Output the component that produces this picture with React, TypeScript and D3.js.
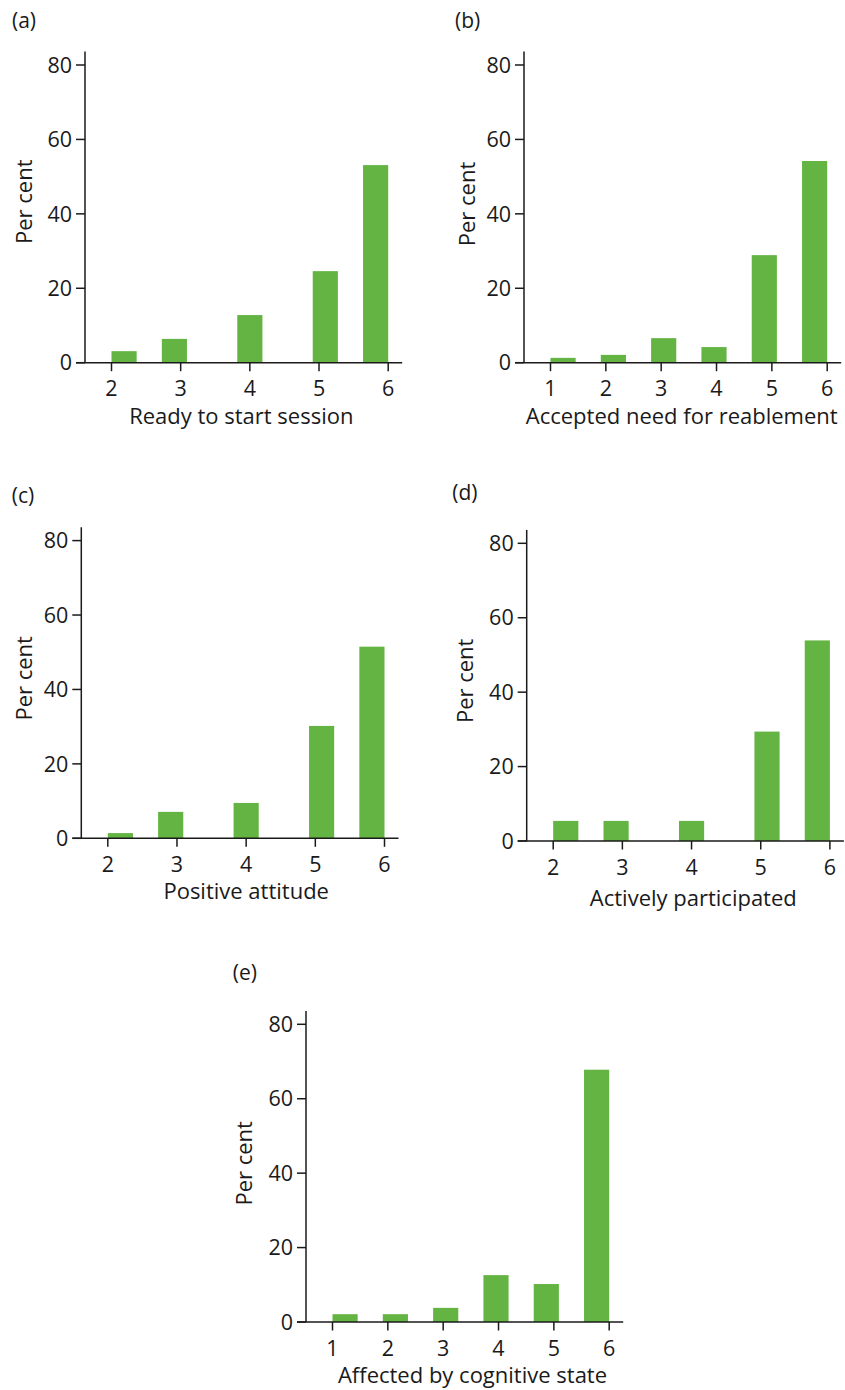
import React from "react";
import * as d3 from "d3";

// ---- Data (per cent of sessions at each rating) ----
const scoresA = [2, 3, 4, 5, 6];
const valuesA = [3.1, 6.4, 12.8, 24.6, 53.1];

const scoresB = [1, 2, 3, 4, 5, 6];
const valuesB = [1.3, 2.1, 6.6, 4.2, 28.9, 54.2];

const scoresC = [2, 3, 4, 5, 6];
const valuesC = [1.4, 7.1, 9.5, 30.2, 51.5];

const scoresD = [2, 3, 4, 5, 6];
const valuesD = [5.4, 5.4, 5.4, 29.4, 53.9];

const scoresE = [1, 2, 3, 4, 5, 6];
const valuesE = [2.1, 2.1, 3.8, 12.6, 10.2, 67.8];

const yTicks = [0, 20, 40, 60, 80];
const panelLabels = ["(a)", "(b)", "(c)", "(d)", "(e)"];
const xTitles = [
  "Ready to start session",
  "Accepted need for reablement",
  "Positive attitude",
  "Actively participated",
  "Affected by cognitive state",
];
const yTitle = "Per cent";
const nBins = 11;

const GREEN = "#63b443";
const INK = "#1a1a1a";
const FONT = "'Open Sans', 'Noto Sans', sans-serif";
const FS = 22;
const TICK_FS = 21.5;

type PanelProps = {
  ox: number; // y-axis x
  oy: number; // zero line y
  scores: number[];
  values: number[];
  label: string;
  labelX: number;
  labelY: number;
  title: string;
  titleX: number;
  titleY: number;
  yTitleX: number;
  yTitleY: number;
};

function Panel(p: PanelProps) {
  const plotW = 276.7;
  const plotH = 297.7;
  const x0 = p.ox + 26.5;
  const xMin = d3.min(p.scores) as number;
  const xMax = d3.max(p.scores) as number;
  const x = d3.scaleLinear().domain([xMin, xMax]).range([x0, x0 + plotW]);
  const y = d3.scaleLinear().domain([0, 80]).range([p.oy, p.oy - plotH]);
  const binW = (xMax - xMin) / nBins;
  const binOf = (v: number) => Math.min(nBins - 1, Math.floor((v - xMin) / binW + 1e-9));
  const axisTop = y(83.6);
  const xEnd = x(xMax) + 14;
  return (
    <g>
      <text x={p.labelX} y={p.labelY} fontSize={21} fill={INK} fontFamily={FONT}>
        {p.label}
      </text>
      {p.scores.map((s, i) => {
        const b = binOf(s);
        const left = x(xMin + b * binW);
        const right = x(xMin + (b + 1) * binW);
        return (
          <rect
            key={i}
            x={left}
            width={right - left}
            y={y(p.values[i])}
            height={y(0) - y(p.values[i])}
            fill={GREEN}
          />
        );
      })}
      <line x1={p.ox} x2={p.ox} y1={axisTop} y2={p.oy} stroke={INK} strokeWidth={1.5} />
      <line x1={p.ox - 9} x2={xEnd} y1={p.oy} y2={p.oy} stroke={INK} strokeWidth={1.5} />
      {yTicks.map((t) => (
        <g key={t}>
          <line x1={p.ox - 9} x2={p.ox} y1={y(t)} y2={y(t)} stroke={INK} strokeWidth={1.5} />
          <text
            x={p.ox - 13}
            y={y(t)}
            dy="0.36em"
            textAnchor="end"
            fontSize={TICK_FS}
            fill={INK}
            fontFamily={FONT}
          >
            {t}
          </text>
        </g>
      ))}
      {p.scores.map((s) => (
        <g key={s}>
          <line x1={x(s)} x2={x(s)} y1={p.oy} y2={p.oy + 8.5} stroke={INK} strokeWidth={1.5} />
          <text
            x={x(s)}
            y={p.oy + 33.5}
            textAnchor="middle"
            fontSize={TICK_FS}
            fill={INK}
            fontFamily={FONT}
          >
            {s}
          </text>
        </g>
      ))}
      <text
        x={p.titleX}
        y={p.titleY + 1}
        textAnchor="middle"
        fontSize={FS}
        fill={INK}
        fontFamily={FONT}
      >
        {p.title}
      </text>
      <text
        transform={`translate(${p.yTitleX},${p.yTitleY}) rotate(-90)`}
        textAnchor="middle"
        fontSize={FS}
        fill={INK}
        fontFamily={FONT}
      >
        {yTitle}
      </text>
    </g>
  );
}

export default function App() {
  const panels: PanelProps[] = [
    { ox: 85, oy: 362.7, scores: scoresA, values: valuesA, label: panelLabels[0], labelX: 12, labelY: 28, title: xTitles[0], titleX: 241.3, titleY: 423.3, yTitleX: 32, yTitleY: 201.7 },
    { ox: 524, oy: 362.7, scores: scoresB, values: valuesB, label: panelLabels[1], labelX: 455, labelY: 28, title: xTitles[1], titleX: 681.7, titleY: 423.3, yTitleX: 475, yTitleY: 204 },
    { ox: 81.3, oy: 838.3, scores: scoresC, values: valuesC, label: panelLabels[2], labelX: 11.7, labelY: 503, title: xTitles[2], titleX: 246.2, titleY: 898.3, yTitleX: 31.5, yTitleY: 678.3 },
    { ox: 526.7, oy: 841, scores: scoresD, values: valuesD, label: panelLabels[3], labelX: 452.3, labelY: 499.5, title: xTitles[3], titleX: 693.3, titleY: 905, yTitleX: 472.5, yTitleY: 680.8 },
    { ox: 306, oy: 1322, scores: scoresE, values: valuesE, label: panelLabels[4], labelX: 232.7, labelY: 980, title: xTitles[4], titleX: 472.5, titleY: 1381.5, yTitleX: 252, yTitleY: 1163.3 },
  ];
  return (
    <svg
      width={845}
      height={1390}
      style={{ position: "absolute", left: 0, top: 0, background: "#fff" }}
    >
      {panels.map((p, i) => (
        <Panel key={i} {...p} />
      ))}
    </svg>
  );
}
